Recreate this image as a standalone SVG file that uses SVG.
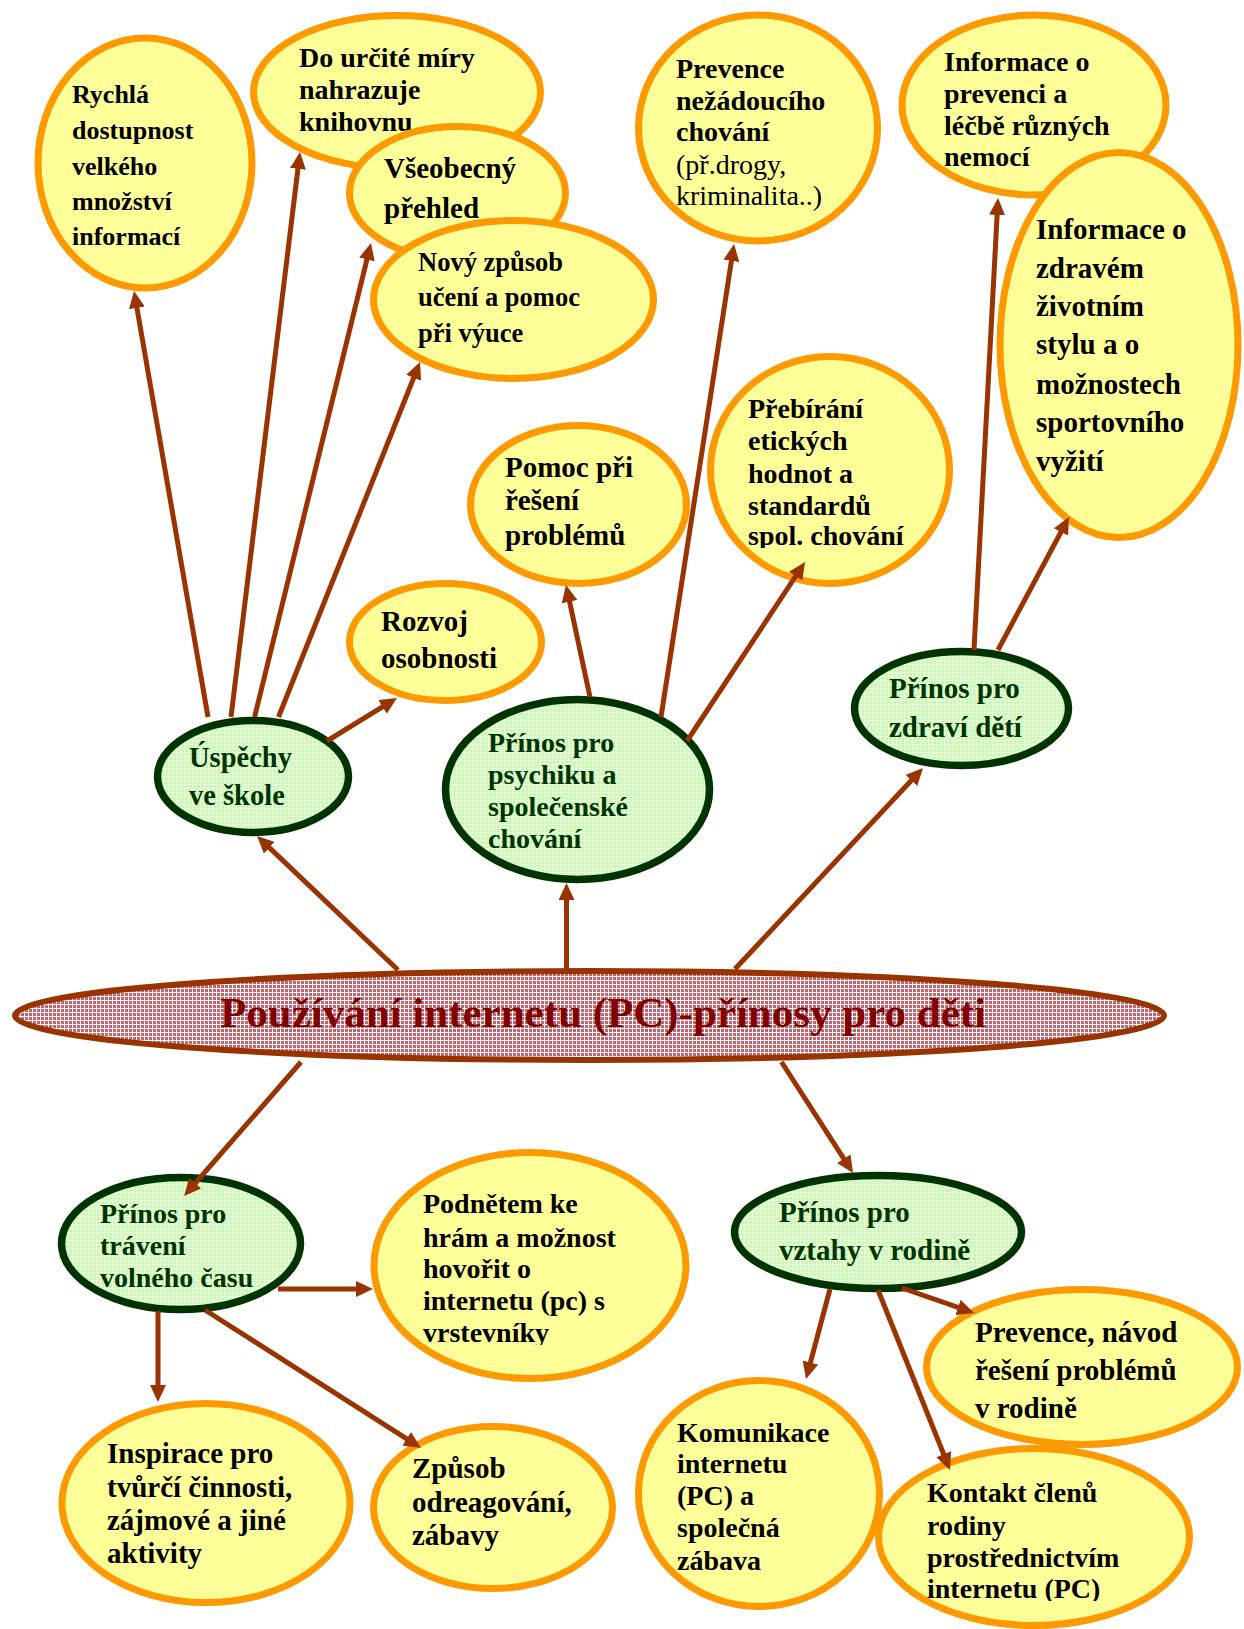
<svg xmlns="http://www.w3.org/2000/svg" width="1244" height="1629" viewBox="0 0 1244 1629">
<defs>
<pattern id="pg" width="4" height="4" patternUnits="userSpaceOnUse"><rect width="4" height="4" fill="#ccf7b4"/><path d="M0,0.5H4M0.5,0V4" stroke="#e9ffdf" stroke-width="1"/></pattern>
<pattern id="pr" width="4" height="4" patternUnits="userSpaceOnUse"><rect width="4" height="4" fill="#c26470"/><path d="M0,0.5H4M0.5,0V4" stroke="#ffffff" stroke-width="1"/></pattern>
<marker id="ah" markerUnits="userSpaceOnUse" markerWidth="17" markerHeight="16" viewBox="0 0 17 16" refX="7" refY="8" orient="auto"><path d="M0,0 L17,8 L0,16 z" fill="#993300"/></marker>
<clipPath id="clipH"><rect x="700" y="340" width="260" height="208"/></clipPath>
<clipPath id="clipP"><rect x="360" y="1140" width="340" height="205"/></clipPath>
<clipPath id="clipV"><rect x="870" y="1440" width="330" height="161"/></clipPath>
</defs>
<style>
.y{fill:#FFFF99;stroke:#FF9900;stroke-width:7}
.g{fill:url(#pg);stroke:#003300;stroke-width:7.5}
.t{font-family:"Liberation Serif","Times New Roman",serif;font-weight:bold;fill:#000}
.tg{fill:#003300}
.n{font-weight:normal}
.c{stroke:#993300;stroke-width:5;fill:none;marker-end:url(#ah)}
</style>
<rect width="1244" height="1629" fill="#ffffff"/>

<g id="node-rychla"><ellipse class="y" cx="145" cy="163" rx="107" ry="125"/>
<text class="t" font-size="26"><tspan x="72" y="103">Rychlá</tspan><tspan x="72" y="139">dostupnost</tspan><tspan x="72" y="175">velkého</tspan><tspan x="72" y="210">množství</tspan><tspan x="72" y="245">informací</tspan></text></g>

<g id="node-knihovnu"><ellipse class="y" cx="397" cy="92" rx="143.5" ry="76.5"/>
<text class="t" font-size="28"><tspan x="299" y="67">Do určité míry</tspan><tspan x="299" y="99">nahrazuje</tspan><tspan x="299" y="131">knihovnu</tspan></text></g>

<g id="node-prehled"><ellipse class="y" cx="457.5" cy="193" rx="108" ry="66.5"/>
<text class="t" font-size="29"><tspan x="384" y="178">Všeobecný</tspan><tspan x="384" y="218">přehled</tspan></text></g>

<g id="node-uceni"><ellipse class="y" cx="513.5" cy="299.5" rx="140" ry="79"/>
<text class="t" font-size="26.5"><tspan x="418" y="271">Nový způsob</tspan><tspan x="418" y="306">učení a pomoc</tspan><tspan x="418" y="342">při výuce</tspan></text></g>

<g id="node-rozvoj"><ellipse class="y" cx="445.5" cy="642" rx="96" ry="58.5"/>
<text class="t" font-size="29"><tspan x="381" y="631">Rozvoj</tspan><tspan x="381" y="668">osobnosti</tspan></text></g>

<g id="node-pomoc"><ellipse class="y" cx="578.5" cy="504.5" rx="108" ry="79"/>
<text class="t" font-size="29"><tspan x="505" y="477">Pomoc při</tspan><tspan x="505" y="510">řešení</tspan><tspan x="505" y="545">problémů</tspan></text></g>

<g id="node-prevence"><ellipse class="y" cx="758" cy="128" rx="119.5" ry="113"/>
<text class="t" font-size="28"><tspan x="676" y="78">Prevence</tspan><tspan x="676" y="110">nežádoucího</tspan><tspan x="676" y="141">chování</tspan><tspan class="n" x="676" y="174">(př.drogy,</tspan><tspan class="n" x="676" y="205">kriminalita..)</tspan></text></g>

<g id="node-hodnoty"><ellipse class="y" cx="830" cy="470" rx="119.5" ry="113.5"/>
<text class="t" font-size="28" clip-path="url(#clipH)"><tspan x="748" y="418">Přebírání</tspan><tspan x="748" y="450">etických</tspan><tspan x="748" y="483">hodnot a</tspan><tspan x="748" y="515">standardů</tspan><tspan x="748" y="545">spol. chování</tspan></text></g>

<g id="node-lecba"><ellipse class="y" cx="1034" cy="105" rx="132" ry="90"/>
<text class="t" font-size="28"><tspan x="944" y="71">Informace o</tspan><tspan x="944" y="103">prevenci a</tspan><tspan x="944" y="135">léčbě různých</tspan><tspan x="944" y="166">nemocí</tspan></text></g>

<g id="node-zdravy-styl"><ellipse class="y" cx="1119" cy="345" rx="119" ry="192.5"/>
<text class="t" font-size="29"><tspan x="1036" y="239">Informace o</tspan><tspan x="1036" y="278">zdravém</tspan><tspan x="1036" y="316">životním</tspan><tspan x="1036" y="354">stylu a o</tspan><tspan x="1036" y="394">možnostech</tspan><tspan x="1036" y="432">sportovního</tspan><tspan x="1036" y="471">vyžití</tspan></text></g>

<g id="node-skola"><ellipse class="g" cx="253" cy="776.5" rx="95.5" ry="56"/>
<text class="t tg" font-size="28.5"><tspan x="189" y="767">Úspěchy</tspan><tspan x="189" y="805">ve škole</tspan></text></g>

<g id="node-psychika"><ellipse class="g" cx="577.5" cy="789.5" rx="132" ry="90"/>
<text class="t tg" font-size="28"><tspan x="488" y="752">Přínos pro</tspan><tspan x="488" y="784">psychiku a</tspan><tspan x="488" y="816">společenské</tspan><tspan x="488" y="848">chování</tspan></text></g>

<g id="node-zdravi"><ellipse class="g" cx="961.5" cy="708.5" rx="107" ry="57"/>
<text class="t tg" font-size="29"><tspan x="889" y="698">Přínos pro</tspan><tspan x="889" y="737">zdraví dětí</tspan></text></g>

<g id="node-main"><ellipse cx="589.5" cy="1015.5" rx="574.5" ry="44.5" fill="url(#pr)" stroke="#993300" stroke-width="6"/>
<text class="t" font-size="43" fill="#800000" style="fill:#800000" x="603" y="1027" text-anchor="middle">Používání internetu (PC)-přínosy pro děti</text></g>

<g id="node-volny-cas"><ellipse class="g" cx="181" cy="1243.5" rx="119.5" ry="66"/>
<text class="t tg" font-size="28"><tspan x="100" y="1223">Přínos pro</tspan><tspan x="100" y="1255">trávení</tspan><tspan x="100" y="1287">volného času</tspan></text></g>

<g id="node-hry"><ellipse class="y" cx="530" cy="1265.5" rx="156" ry="113"/>
<text class="t" font-size="28" clip-path="url(#clipP)"><tspan x="423" y="1213">Podnětem ke</tspan><tspan x="423" y="1247">hrám a možnost</tspan><tspan x="423" y="1278">hovořit o</tspan><tspan x="423" y="1310">internetu (pc) s</tspan><tspan x="423" y="1342">vrstevníky</tspan></text></g>

<g id="node-inspirace"><ellipse class="y" cx="206" cy="1503" rx="144" ry="99.5"/>
<text class="t" font-size="29"><tspan x="107" y="1463">Inspirace pro</tspan><tspan x="107" y="1497">tvůrčí činnosti,</tspan><tspan x="107" y="1530">zájmové a jiné</tspan><tspan x="107" y="1563">aktivity</tspan></text></g>

<g id="node-odreagovani"><ellipse class="y" cx="493" cy="1507.5" rx="119.5" ry="81"/>
<text class="t" font-size="29"><tspan x="412" y="1478">Způsob</tspan><tspan x="412" y="1512">odreagování,</tspan><tspan x="412" y="1545">zábavy</tspan></text></g>

<g id="node-rodina"><ellipse class="g" cx="878" cy="1232" rx="143.5" ry="56.5"/>
<text class="t tg" font-size="29"><tspan x="779" y="1222">Přínos pro</tspan><tspan x="779" y="1260">vztahy v rodině</tspan></text></g>

<g id="node-navod"><ellipse class="y" cx="1082" cy="1367" rx="155.5" ry="77.5"/>
<text class="t" font-size="29"><tspan x="975" y="1342">Prevence, návod</tspan><tspan x="975" y="1380">řešení problémů</tspan><tspan x="975" y="1418">v rodině</tspan></text></g>

<g id="node-komunikace"><ellipse class="y" cx="759" cy="1493.5" rx="120.5" ry="113"/>
<text class="t" font-size="28"><tspan x="677" y="1442">Komunikace</tspan><tspan x="677" y="1473">internetu</tspan><tspan x="677" y="1505">(PC) a</tspan><tspan x="677" y="1537">společná</tspan><tspan x="677" y="1570">zábava</tspan></text></g>

<g id="node-kontakt"><ellipse class="y" cx="1034" cy="1537" rx="155.5" ry="88.5"/>
<text class="t" font-size="28" clip-path="url(#clipV)"><tspan x="927" y="1502">Kontakt členů</tspan><tspan x="927" y="1535">rodiny</tspan><tspan x="927" y="1567">prostřednictvím</tspan><tspan x="927" y="1598">internetu (PC)</tspan></text></g>

<g id="connectors">
<line class="c" x1="398" y1="970" x2="264.3" y2="842.9"/>
<line class="c" x1="566.5" y1="970" x2="566.5" y2="893"/>
<line class="c" x1="735" y1="969" x2="916.2" y2="775.3"/>
<line class="c" x1="301" y1="1062" x2="190.6" y2="1188.5"/>
<line class="c" x1="781.5" y1="1062" x2="847.6" y2="1164.6"/>
<line class="c" x1="208" y1="717" x2="135.7" y2="300.9"/>
<line class="c" x1="231" y1="717" x2="298.8" y2="161.9"/>
<line class="c" x1="254.6" y1="717" x2="368.6" y2="252.7"/>
<line class="c" x1="278.5" y1="717" x2="416.3" y2="371.3"/>
<line class="c" x1="327" y1="741" x2="388.5" y2="703.2"/>
<line class="c" x1="590" y1="697" x2="568.1" y2="594.8"/>
<line class="c" x1="661" y1="717" x2="732.5" y2="253.9"/>
<line class="c" x1="687" y1="741" x2="799.5" y2="570.4"/>
<line class="c" x1="974" y1="650" x2="997.5" y2="208"/>
<line class="c" x1="998" y1="650" x2="1064.3" y2="525.8"/>
<line class="c" x1="278" y1="1289" x2="363" y2="1289"/>
<line class="c" x1="158" y1="1311" x2="158" y2="1392"/>
<line class="c" x1="205" y1="1310" x2="412.6" y2="1442.6"/>
<line class="c" x1="830" y1="1289" x2="808.6" y2="1369.3"/>
<line class="c" x1="878" y1="1290" x2="946.3" y2="1460.7"/>
<line class="c" x1="902" y1="1288" x2="964.6" y2="1309.7"/>
</g>
</svg>
